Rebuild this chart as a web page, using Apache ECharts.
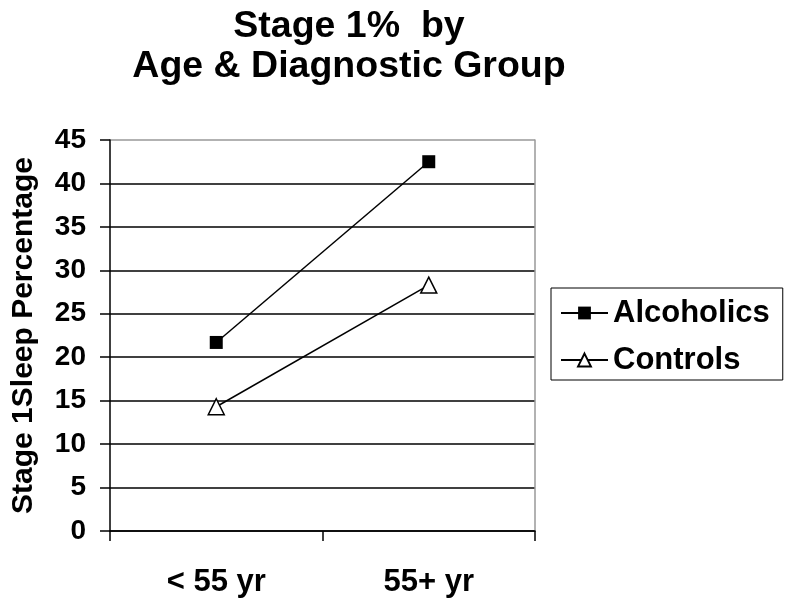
<!DOCTYPE html>
<html>
<head>
<meta charset="utf-8">
<script src="https://cdn.jsdelivr.net/npm/echarts@6/dist/echarts.min.js"></script>
<style>
html,body{margin:0;padding:0;background:#fff;}
#chart{width:788px;height:603px;}
</style>
</head>
<body>
<div id="chart"></div>
<script>
const categories = ['< 55 yr', '55+ yr'];
const alcoholics = [21.7, 42.5];
const controls = [14.3, 28.3];
const seriesNames = ['Alcoholics', 'Controls'];
const titleText = 'Stage 1%  by\nAge & Diagnostic Group';
const yAxisName = 'Stage 1Sleep Percentage';

const FONT = '"Liberation Sans", Arial, sans-serif';
const chart = echarts.init(document.getElementById('chart'), null, {renderer: 'canvas'});
chart.setOption({
  backgroundColor: '#fff',
  animation: false,
  title: {
    text: titleText,
    left: 349,
    top: 7,
    padding: 0,
    textAlign: 'center',
    textStyle: {fontFamily: FONT, fontWeight: 'bold', fontSize: 37.5, lineHeight: 40, color: '#000'}
  },
  legend: {
    orient: 'vertical',
    left: 551,
    top: 288,
    padding: [5, 13, 0, 9],
    itemGap: 7,
    itemWidth: 47,
    itemHeight: 16,
    borderColor: '#000',
    borderWidth: 1,
    data: seriesNames,
    textStyle: {fontFamily: FONT, fontWeight: 'bold', fontSize: 31, lineHeight: 40, color: '#000'}
  },
  grid: {left: 110, right: 253, top: 140, bottom: 72, containLabel: false, outerBoundsMode: 'none'},
  xAxis: {
    type: 'category',
    data: categories,
    boundaryGap: true,
    axisLine: {lineStyle: {color: '#000', width: 1.5}},
    axisTick: {show: true, length: 10, alignWithLabel: false, lineStyle: {color: '#000', width: 1.5}},
    axisLabel: {fontFamily: FONT, fontWeight: 'bold', fontSize: 31, color: '#000', margin: 36},
    splitLine: {show: false}
  },
  yAxis: [{
    type: 'value',
    min: 0, max: 45, interval: 5,
    name: yAxisName,
    nameLocation: 'middle',
    nameRotate: 90,
    nameGap: 71,
    nameTextStyle: {fontFamily: FONT, fontWeight: 'bold', fontSize: 30, color: '#000'},
    axisLine: {show: true, lineStyle: {color: '#000', width: 1.5}},
    axisTick: {show: true, length: 10, lineStyle: {color: '#000', width: 1.5}},
    axisLabel: {fontFamily: FONT, fontWeight: 'bold', fontSize: 28, color: '#000', margin: 24},
    splitLine: {show: true, lineStyle: {color: ['#000','#000','#000','#000','#000','#000','#000','#000','#000','#999'], width: 1.5}}
  }, {
    type: 'value',
    min: 0, max: 45, interval: 5,
    position: 'right',
    axisLine: {show: true, lineStyle: {color: '#999', width: 1.5}},
    axisTick: {show: false},
    axisLabel: {show: false},
    splitLine: {show: false}
  }],
  series: [{
    name: seriesNames[0],
    type: 'line',
    data: alcoholics,
    symbol: 'rect',
    symbolSize: 13,
    lineStyle: {color: '#000', width: 1.5},
    itemStyle: {color: '#000', borderColor: '#000', borderWidth: 0}
  }, {
    name: seriesNames[1],
    type: 'line',
    data: controls,
    symbol: 'triangle',
    symbolSize: 16,
    lineStyle: {color: '#000', width: 1.5},
    itemStyle: {color: '#fff', borderColor: '#000', borderWidth: 1.5}
  }]
});
</script>
</body>
</html>
